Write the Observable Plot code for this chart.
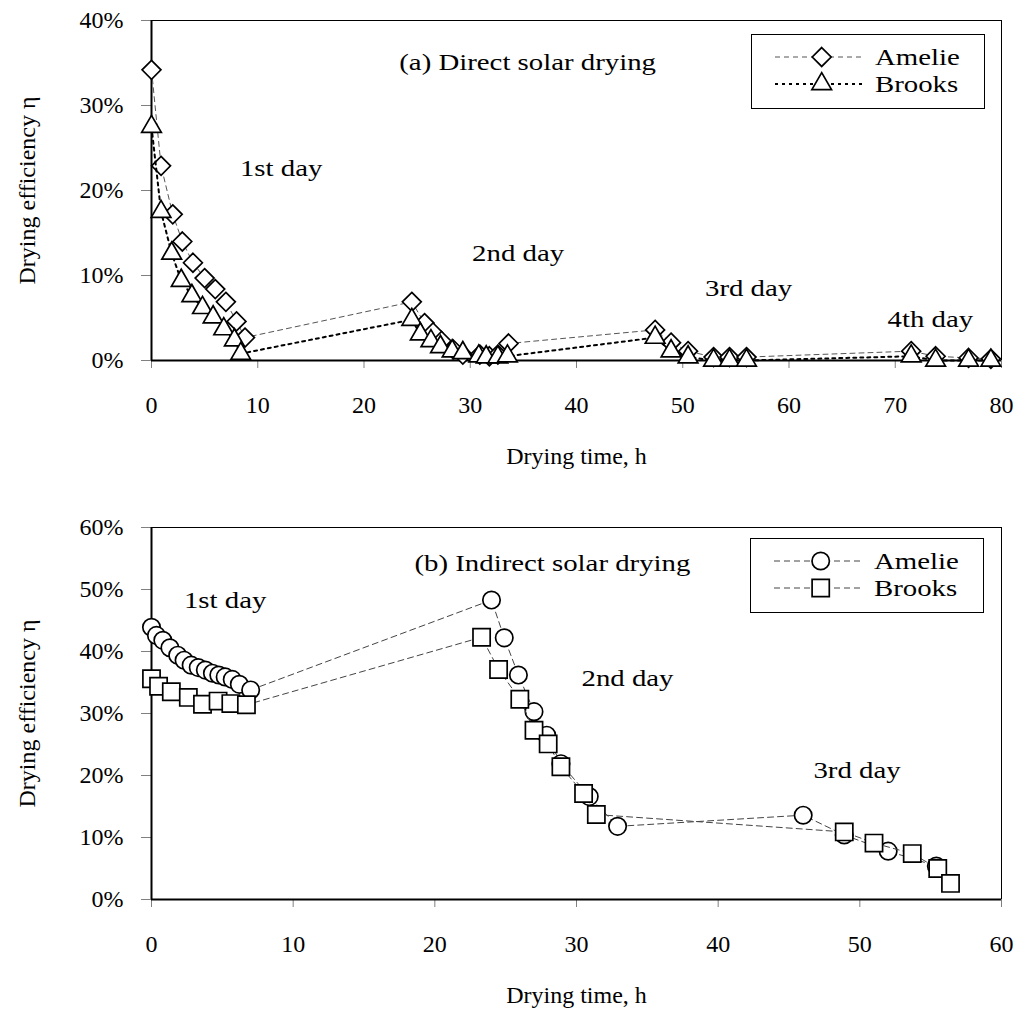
<!DOCTYPE html>
<html>
<head>
<meta charset="utf-8">
<script src="https://cdn.jsdelivr.net/npm/d3@7"></script>
<script src="https://cdn.jsdelivr.net/npm/@observablehq/plot@0.6"></script>
<style>
html, body { margin: 0; padding: 0; background: #fff; }
#wrap { position: relative; width: 1022px; height: 1015px; overflow: hidden; }
#wrap > svg { display: block; }
</style>
</head>
<body>
<div id="wrap"></div>
<script>
// ---------- (a) Direct solar drying ----------
const directHours_Amelie = [0, 0.9, 2.0, 2.9, 3.9, 5.0, 6.0, 7.0, 8.0, 8.8, 24.5, 25.7, 26.5, 27.3, 28.4, 29.3, 30.9, 31.8, 32.6, 33.6, 47.4, 48.9, 50.5, 52.9, 54.4, 56.0, 71.5, 73.8, 76.9, 79.0];
const directEta_Amelie   = [34.2, 22.9, 17.2, 14.0, 11.5, 9.7, 8.4, 6.9, 4.6, 2.7, 6.9, 4.4, 3.3, 2.3, 1.3, 0.7, 0.7, 0.5, 0.7, 2.0, 3.6, 2.1, 1.1, 0.4, 0.4, 0.4, 1.1, 0.5, 0.3, 0.2];
const directHours_Brooks = [0, 0.9, 1.9, 2.8, 3.8, 4.8, 5.8, 6.8, 7.8, 8.4, 24.5, 25.3, 26.3, 27.2, 28.3, 29.3, 30.8, 31.5, 32.6, 33.5, 47.4, 48.9, 50.5, 52.9, 54.4, 56.0, 71.5, 73.8, 76.9, 79.0];
const directEta_Brooks   = [27.5, 17.5, 12.6, 9.4, 7.6, 6.2, 5.1, 3.7, 2.4, 0.8, 4.8, 3.1, 2.3, 1.6, 1.1, 0.9, 0.5, 0.4, 0.4, 0.5, 2.7, 1.1, 0.4, 0.0, 0.0, 0.0, 0.5, 0.0, 0.0, 0.0];
const directNotes  = ["(a) Direct solar drying", "1st day", "2nd day", "3rd day", "4th day"];
const directNoteX  = [35.4, 12.2, 34.5, 56.2, 73.3];
const directNoteY  = [35.1, 22.6, 12.6, 8.5, 4.9];
const directXTicks = [0, 10, 20, 30, 40, 50, 60, 70, 80];
const directYTicks = [0, 10, 20, 30, 40];

// ---------- (b) Indirect solar drying ----------
const indirectHours_Amelie = [0, 0.35, 0.8, 1.3, 1.85, 2.3, 2.8, 3.3, 3.8, 4.3, 4.75, 5.2, 5.7, 6.2, 7.0, 24.0, 24.9, 25.9, 27.0, 27.9, 28.9, 30.9, 32.9, 46.0, 48.9, 52.0, 55.4];
const indirectEta_Amelie   = [43.9, 42.6, 41.8, 40.6, 39.4, 38.6, 37.8, 37.4, 37.0, 36.5, 36.2, 35.9, 35.5, 34.7, 33.8, 48.3, 42.2, 36.2, 30.3, 26.5, 21.9, 16.6, 11.8, 13.6, 10.4, 7.8, 5.4];
const indirectHours_Brooks = [0, 0.5, 1.4, 2.6, 3.6, 4.7, 5.6, 6.7, 23.3, 24.5, 26.0, 27.0, 28.0, 28.9, 30.5, 31.4, 48.9, 51.0, 53.7, 55.5, 56.4];
const indirectEta_Brooks   = [35.6, 34.4, 33.5, 32.6, 31.5, 32.0, 31.6, 31.4, 42.3, 37.1, 32.3, 27.3, 25.1, 21.4, 17.1, 13.7, 10.9, 9.1, 7.4, 5.0, 2.6];
const indirectNotes  = ["(b) Indirect solar drying", "1st day", "2nd day", "3rd day"];
const indirectNoteX  = [28.3, 5.2, 33.6, 49.8];
const indirectNoteY  = [54.3, 48.2, 35.6, 20.8];
const indirectXTicks = [0, 10, 20, 30, 40, 50, 60];
const indirectYTicks = [0, 10, 20, 30, 40, 50, 60];

const varieties = ["Amelie", "Brooks"];
const xTitle = "Drying time, h";
const yTitle = "Drying efficiency \u03B7";

// ---------- helpers ----------
const FONT = "'Liberation Serif', 'Times New Roman', serif";
const zip = (t, e) => t.map((v, i) => ({t: v, eta: e[i]}));
const notesOf = (labels, xs, ys) => labels.map((l, i) => ({label: l, t: xs[i], eta: ys[i]}));

function makeChart(o) {
  const marks = [
    Plot.frame({stroke: "black", strokeWidth: 1}),
    Plot.axisY({ticks: o.yTicks, tickSize: 10, tickPadding: 18, tickFormat: d => d + "%", stroke: "#808080", fill: "black", fontSize: 24, label: null}),
    Plot.axisX({ticks: o.xTicks, tickSize: 8, tickPadding: 27, stroke: "#808080", fill: "black", fontSize: 24, label: null}),
    Plot.ruleX([o.xDomain[0]], {stroke: "black", strokeWidth: 2}),
    Plot.ruleY([o.yDomain[0]], {stroke: "black", strokeWidth: 2})
  ];
  for (const s of o.series) {
    marks.push(Plot.line(s.data, {x: "t", y: "eta", stroke: s.stroke, strokeWidth: s.strokeWidth, strokeDasharray: s.dash}));
    marks.push(Plot.dot(s.data, {x: "t", y: "eta", symbol: s.symbol, r: s.r, fill: "white", stroke: "black", strokeWidth: 1.7}));
  }
  marks.push(Plot.text(o.notes, {x: "t", y: "eta", text: "label", fontSize: 24, textAnchor: "middle", lineAnchor: "middle", fill: "black"}));
  marks.push(Plot.text([xTitle], {text: d => d, frameAnchor: "bottom", dy: 96, textAnchor: "middle", lineAnchor: "middle", fontSize: 24, fill: "black"}));
  marks.push(Plot.text([yTitle], {text: d => d, frameAnchor: "left", dx: -124, rotate: -90, textAnchor: "middle", lineAnchor: "middle", fontSize: 24, fill: "black"}));
  return Plot.plot({
    width: 1022, height: o.height,
    marginLeft: 151, marginRight: 21, marginTop: o.marginTop, marginBottom: o.marginBottom,
    style: {fontFamily: FONT, fontSize: "24px", color: "black", background: "white", overflow: "visible"},
    x: {domain: o.xDomain},
    y: {domain: o.yDomain},
    marks
  });
}

function addLegend(parent, left, top, items) {
  const w = 233, h = 74;
  const svg = d3.create("svg").attr("width", w + 2).attr("height", h + 2)
    .style("position", "absolute").style("left", left + "px").style("top", top + "px")
    .style("font-family", FONT);
  svg.append("rect").attr("x", 0.5).attr("y", 0.5).attr("width", w).attr("height", h)
    .attr("fill", "white").attr("stroke", "black").attr("stroke-width", 1);
  items.forEach((it, i) => {
    const cy = 23 + i * 27;
    svg.append("line").attr("x1", 24).attr("x2", 112).attr("y1", cy).attr("y2", cy)
      .attr("stroke", it.stroke).attr("stroke-width", it.strokeWidth).attr("stroke-dasharray", it.dash);
    svg.append("path").attr("transform", `translate(70.7,${cy})`)
      .attr("d", d3.symbol(it.symbolType, Math.PI * it.r * it.r)())
      .attr("fill", "white").attr("stroke", "black").attr("stroke-width", 1.7);
    svg.append("text").attr("x", 124).attr("y", cy + 8).attr("font-size", 24).attr("fill", "black").attr("class", "stretch").text(it.name);
  });
  parent.appendChild(svg.node());
}

function stretchTexts(root, labels, k) {
  root.querySelectorAll("text").forEach(t => {
    if (labels.includes(t.textContent) || t.getAttribute("class") === "stretch") {
      const L = t.getComputedTextLength();
      t.setAttribute("textLength", L * k);
      t.setAttribute("lengthAdjust", "spacingAndGlyphs");
    }
  });
}

// ---------- build ----------
const wrap = document.getElementById("wrap");

const stylesA = [
  {stroke: "#555", strokeWidth: 1, dash: "5,4", symbol: "diamond2", symbolType: d3.symbolDiamond2, r: 8.5},
  {stroke: "black", strokeWidth: 2, dash: "3,4", symbol: "triangle", symbolType: d3.symbolTriangle, r: 7.3}
];
const stylesB = [
  {stroke: "#444", strokeWidth: 1, dash: "6,4", symbol: "circle", symbolType: d3.symbolCircle, r: 8.7},
  {stroke: "#444", strokeWidth: 1, dash: "6,4", symbol: "square", symbolType: d3.symbolSquare, r: 9.7}
];

const chartA = makeChart({
  height: 505, marginTop: 20, marginBottom: 145,
  xDomain: [0, 80], yDomain: [0, 40], xTicks: directXTicks, yTicks: directYTicks,
  series: [
    {data: zip(directHours_Amelie, directEta_Amelie), ...stylesA[0]},
    {data: zip(directHours_Brooks, directEta_Brooks), ...stylesA[1]}
  ],
  notes: notesOf(directNotes, directNoteX, directNoteY)
});
const chartB = makeChart({
  height: 510, marginTop: 22, marginBottom: 116,
  xDomain: [0, 60], yDomain: [0, 60], xTicks: indirectXTicks, yTicks: indirectYTicks,
  series: [
    {data: zip(indirectHours_Amelie, indirectEta_Amelie), ...stylesB[0]},
    {data: zip(indirectHours_Brooks, indirectEta_Brooks), ...stylesB[1]}
  ],
  notes: notesOf(indirectNotes, indirectNoteX, indirectNoteY)
});
wrap.appendChild(chartA);
wrap.appendChild(chartB);
addLegend(wrap, 751, 34, varieties.map((name, i) => ({name, ...stylesA[i]})));
addLegend(wrap, 750, 538, varieties.map((name, i) => ({name, ...stylesB[i]})));

const allNotes = directNotes.concat(indirectNotes);
stretchTexts(wrap, allNotes, 1.2);
</script>
</body>
</html>
